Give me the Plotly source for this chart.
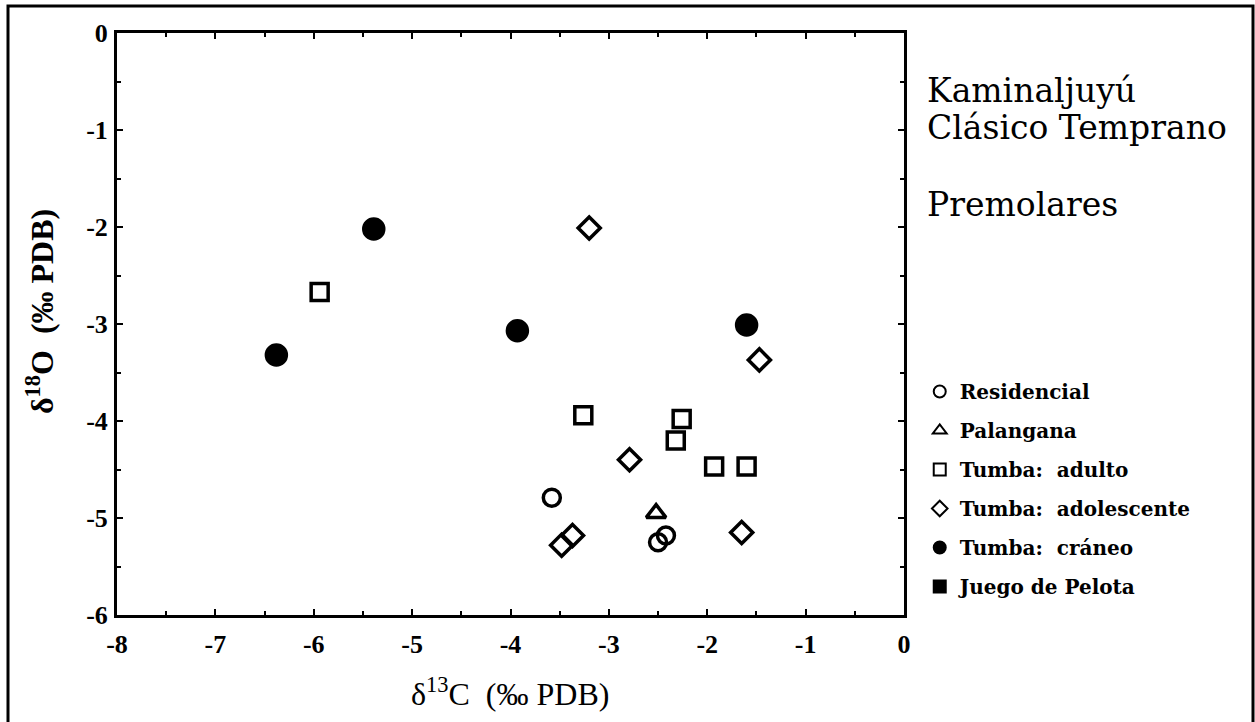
import plotly.graph_objects as go

# Data
res_x = [-3.58, -2.42, -2.50]
res_y = [-4.79, -5.18, -5.25]
pal_x = [-2.52]
pal_y = [-4.95]
adu_x = [-5.94, -3.26, -2.26, -2.32, -1.93, -1.60]
adu_y = [-2.67, -3.94, -3.98, -4.20, -4.47, -4.47]
ado_x = [-3.20, -1.47, -2.79, -1.65, -3.37, -3.48]
ado_y = [-2.01, -3.37, -4.40, -5.15, -5.18, -5.28]
cra_x = [-6.38, -5.39, -3.93, -1.60]
cra_y = [-3.32, -2.02, -3.07, -3.01]
jue_x = [None]
jue_y = [None]

series = [
    ("Residencial", res_x, res_y, "circle-open", 17),
    ("Palangana", pal_x, pal_y, "triangle-up-open", 17),
    ("Tumba:  adulto", adu_x, adu_y, "square-open", 17),
    ("Tumba:  adolescente", ado_x, ado_y, "diamond-open", 17),
    ("Tumba:  cráneo", cra_x, cra_y, "circle", 20),
    ("Juego de Pelota", jue_x, jue_y, "square", 18),
]

x_ticks = [-8, -7, -6, -5, -4, -3, -2, -1, 0]
y_ticks = [0, -1, -2, -3, -4, -5, -6]

FONT = "Liberation Serif"
WIDE = "DejaVu Serif"

fig = go.Figure()
for name, xs, ys, sym, sz in series:
    fig.add_trace(go.Scatter(
        x=xs, y=ys, mode="markers", name=name, legendgroup=name,
        marker=dict(symbol=sym, size=sz, color="black",
                    line=dict(color="black", width=3.5)),
    ))

fig.update_layout(
    width=1255, height=722,
    paper_bgcolor="white", plot_bgcolor="white",
    margin=dict(l=117, r=351, t=33, b=107),
    font=dict(family=FONT, color="black", size=20),
    showlegend=True,
    legend=dict(x=1.02, y=(615 - 372) / 582, xanchor="left", yanchor="top",
                font=dict(family=WIDE, size=20, color="black", weight="bold"),
                itemsizing="constant", tracegroupgap=10,
                bgcolor="rgba(0,0,0,0)", itemwidth=30),
)
fig.update_xaxes(
    range=[-8, 0], tickvals=x_ticks, ticktext=[str(v) for v in x_ticks],
    ticks="inside", ticklen=6, tickwidth=2, tickcolor="black",
    minor=dict(dtick=0.5, ticks="inside", ticklen=4, tickwidth=2, tickcolor="black"),
    showline=True, linecolor="black", linewidth=3, mirror="ticks",
    showgrid=False, zeroline=False, ticklabelstandoff=4,
    tickfont=dict(family=FONT, size=26, color="black", weight="bold"),
)
fig.update_yaxes(
    range=[-6, 0], tickvals=y_ticks, ticktext=[str(v) for v in y_ticks],
    ticks="inside", ticklen=6, tickwidth=2, tickcolor="black",
    minor=dict(dtick=0.5, ticks="inside", ticklen=4, tickwidth=2, tickcolor="black"),
    showline=True, linecolor="black", linewidth=3, mirror="ticks",
    showgrid=False, zeroline=False, ticklabelstandoff=1,
    tickfont=dict(family=FONT, size=26, color="black", weight="bold"),
)

# outer frame
fig.add_shape(type="rect", xref="paper", yref="paper",
              x0=(8 - 117) / 787, x1=(1253 - 117) / 787,
              y0=(615 - 730) / 582, y1=(615 - 6) / 582,
              line=dict(color="black", width=3), fillcolor="rgba(0,0,0,0)",
              layer="below")

fig.add_annotation(text="δ<sup>13</sup>C  (‰ PDB)", xref="paper", yref="paper",
                   x=(510 - 117) / 787, y=(615 - 692) / 582,
                   xanchor="center", yanchor="middle",
                   showarrow=False, font=dict(family=FONT, size=32, color="black"))
fig.add_annotation(text="δ<sup>18</sup>O  (‰ PDB)", xref="paper", yref="paper",
                   x=(40 - 117) / 787, y=(615 - 312) / 582, textangle=-90,
                   xanchor="center", yanchor="middle",
                   showarrow=False, font=dict(family=FONT, size=32, color="black", weight="bold"))
for txt, yc in [("Kaminaljuyú", 90), ("Clásico Temprano", 128), ("Premolares", 205)]:
    fig.add_annotation(text=txt,
                       xref="paper", yref="paper", x=(925 - 117) / 787, y=(615 - yc) / 582,
                       xanchor="left", yanchor="middle", align="left", showarrow=False,
                       font=dict(family=WIDE, size=33, color="black"))

fig.write_html("out.html")
